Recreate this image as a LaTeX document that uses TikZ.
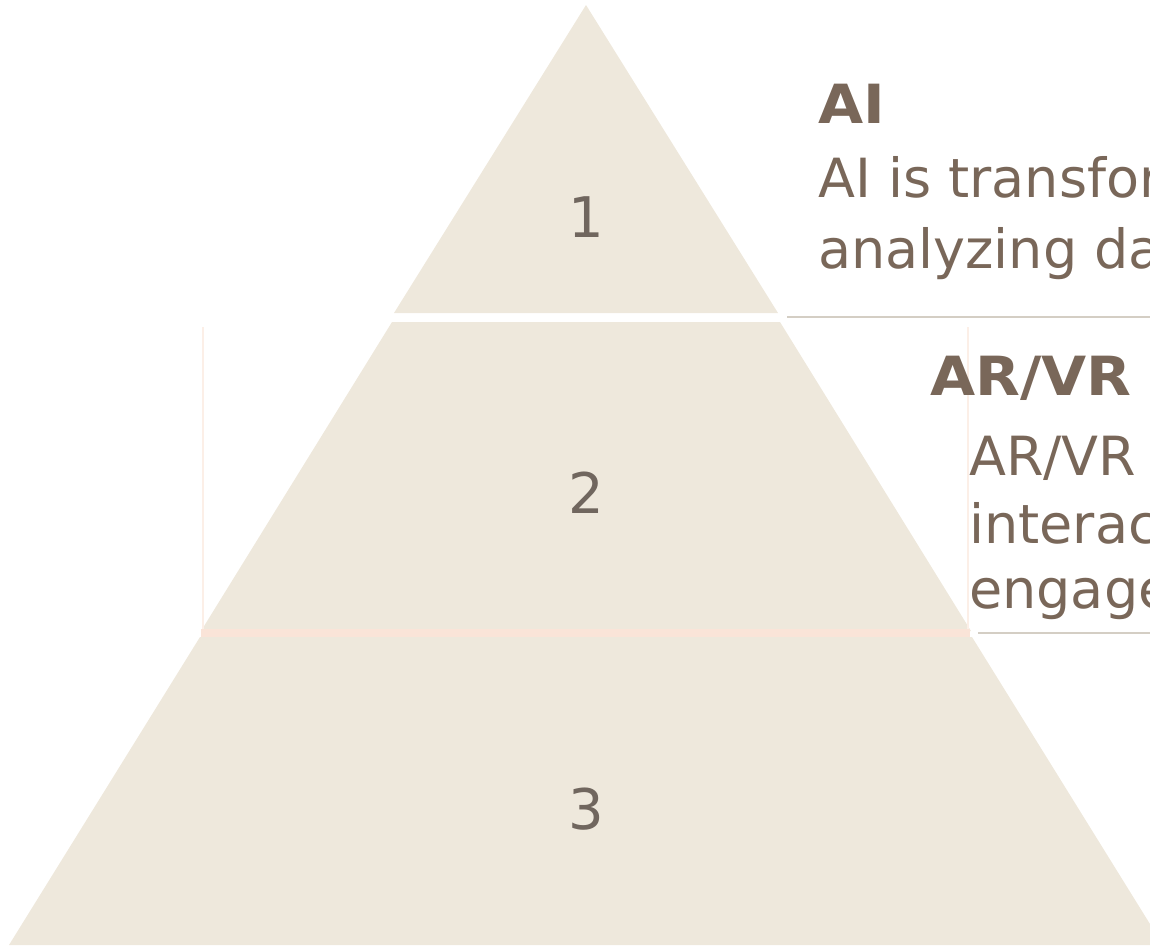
\documentclass[tikz,border=0pt]{standalone}
\usepackage{fontspec}
\usepackage{graphicx}
\setmainfont{DejaVu Sans}
\definecolor{tier}{RGB}{238,232,220}
\definecolor{txt}{RGB}{121,103,89}
\definecolor{digitc}{RGB}{112,102,94}
\definecolor{sep}{RGB}{212,206,196}
\definecolor{peach}{RGB}{250,228,216}
\definecolor{peachl}{RGB}{252,239,231}
\newcommand{\widebold}[1]{\scalebox{1.08}[1]{#1}}
\begin{document}
\begin{tikzpicture}[x=1pt,y=-1pt,
  tierfill/.style={fill=tier},
  digit/.style={text=digitc,font=\fontsize{56}{60}\selectfont,inner sep=0pt},
  ttl/.style={text=txt,font=\fontsize{54}{60}\selectfont\bfseries,anchor=base west,inner sep=0pt},
  body/.style={text=txt,font=\fontsize{54}{60}\selectfont,anchor=base west,inner sep=0pt},
  sepline/.style={draw=sep,line width=2pt}]
\useasboundingbox (0,0) rectangle (1150,945);
\clip (0,0) rectangle (1150,945);
% tiers
\fill[tierfill] (586,5) -- (778,313) -- (394,313) -- cycle;
\fill[tierfill] (392,322) -- (780,322) -- (971,631) -- (201,631) -- cycle;
\fill[tierfill] (200,637) -- (972,637) -- (1163,945) -- (9,945) -- cycle;
% highlight around tier 2
\draw[peachl,line width=2.5pt] (203,327) -- (203,632);
\draw[peachl,line width=2.5pt] (968,327) -- (968,632);
\fill[peach] (201,629) rectangle (970,637);
% digits
\node[digit] (n1) at (586,217) {1};
\node[digit] (n2) at (586,493) {2};
\node[digit] (n3) at (586,809) {3};
% AI text
\node[ttl] (t1) at (818,123) {\widebold{AI}};
\node[body] (b1a) at (818,197) {AI is transfor};
\node[body] (b1b) at (818,268) {analyzing da};
\coordinate (s1a) at (787,317);
\coordinate (s1b) at (1150,317);
\draw[sepline] (s1a) -- (s1b);
% AR/VR text
\node[ttl] (t2) at (930,395) {\widebold{AR/VR}};
\node[body] (b2a) at (969,475) {AR/VR};
\node[body] (b2b) at (969,543) {interac};
\node[body] (b2c) at (969,608) {engage};
\coordinate (s2a) at (978,633);
\coordinate (s2b) at (1150,633);
\draw[sepline] (s2a) -- (s2b);
\end{tikzpicture}
\end{document}
